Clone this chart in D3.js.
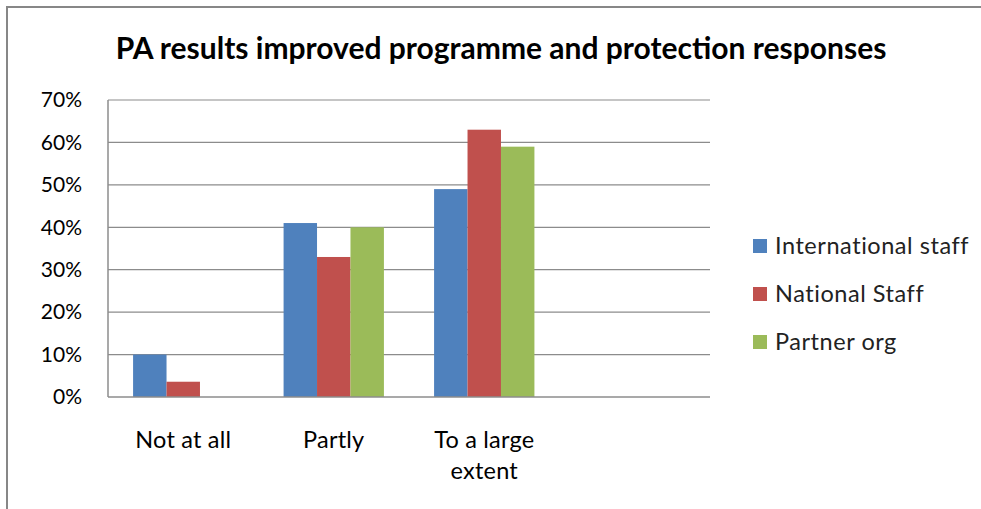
<!DOCTYPE html>
<html>
<head>
<meta charset="utf-8">
<script src="https://cdn.jsdelivr.net/npm/d3@7"></script>
<style>
  body { margin: 0; background: #fff; }
  text { font-family: Lato, "Open Sans", sans-serif; fill: #000; }
</style>
</head>
<body>
<svg width="981" height="509"></svg>
<script>
var categories = ["Not at all", "Partly", "To a large extent", ""];
var seriesNames = ["International staff", "National Staff", "Partner org"];
var internationalStaff = [0.10, 0.41, 0.49, null];
var nationalStaff = [0.036, 0.33, 0.63, null];
var partnerOrg = [0, 0.40, 0.59, null];
var yTicks = [0, 0.1, 0.2, 0.3, 0.4, 0.5, 0.6, 0.7];
var colors = ["#4f81bd", "#c0504d", "#9bbb59"];

var svg = d3.select("svg"),
    width = +svg.attr("width"),
    height = +svg.attr("height");

var margin = { top: 100, left: 108, right: 271, bottom: 112 };
var plotW = width - margin.left - margin.right,
    plotH = height - margin.top - margin.bottom;

// chart border
svg.append("rect")
    .attr("x", 7).attr("y", 7)
    .attr("width", width).attr("height", height)
    .attr("fill", "none")
    .attr("stroke", "#878787")
    .attr("stroke-width", 2);

svg.append("text")
    .attr("x", 501).attr("y", 59)
    .attr("text-anchor", "middle")
    .style("font-size", "30px")
    .style("font-weight", "bold")
    .text("PA results improved programme and protection responses");

var g = svg.append("g").attr("transform", "translate(" + margin.left + "," + margin.top + ")");

var x = d3.scaleBand().domain(categories).range([0, plotW]);
var xSub = d3.scaleBand().domain(seriesNames)
    .range([0, x.bandwidth()]).paddingOuter(0.75).paddingInner(0);
var y = d3.scaleLinear().domain([0, 0.7]).range([plotH, 0]);

// gridlines
g.append("g").selectAll("line")
    .data(yTicks.slice(1))
    .enter().append("line")
    .attr("x1", 0).attr("x2", plotW)
    .attr("y1", d => y(d)).attr("y2", d => y(d))
    .attr("stroke", "#8c8c8c")
    .attr("stroke-width", 1.2);

// y axis labels
var yAxis = d3.axisLeft(y).tickValues(yTicks).tickFormat(d3.format(".0%")).tickSize(0).tickPadding(26);
var ya = g.append("g").call(yAxis);
ya.select(".domain").remove();
ya.selectAll("text").style("font-size", "21px").style("fill", "#000").attr("font-family", null);

var series = [internationalStaff, nationalStaff, partnerOrg];
var barData = [];
series.forEach(function (vals, si) {
    vals.forEach(function (v, ci) {
        if (v) barData.push({ cat: categories[ci], name: seriesNames[si], value: v, color: colors[si] });
    });
});

g.append("g").selectAll("rect")
    .data(barData)
    .enter().append("rect")
    .attr("x", d => x(d.cat) + xSub(d.name))
    .attr("width", xSub.bandwidth())
    .attr("y", d => y(d.value))
    .attr("height", d => plotH - y(d.value))
    .attr("fill", d => d.color);

// axis lines
g.append("line").attr("x1", 0).attr("x2", 0).attr("y1", 0).attr("y2", plotH)
    .attr("stroke", "#8c8c8c").attr("stroke-width", 1.5);
g.append("line").attr("x1", 0).attr("x2", plotW).attr("y1", plotH).attr("y2", plotH)
    .attr("stroke", "#8c8c8c").attr("stroke-width", 1.5);

// category labels (wrapped)
var catLines = { "To a large extent": ["To a large", "extent"] };
categories.forEach(function (c) {
    var lines = catLines[c] || [c];
    var t = g.append("text")
        .attr("text-anchor", "middle")
        .style("font-size", "23.5px")
        .style("letter-spacing", "0.2px");
    lines.forEach(function (l, i) {
        t.append("tspan")
            .attr("x", x(c) + x.bandwidth() / 2)
            .attr("y", plotH + 51 + i * 31)
            .text(l);
    });
});

// legend
var legend = svg.selectAll(".legend")
    .data(seriesNames)
    .enter().append("g")
    .attr("class", "legend")
    .attr("transform", function (d, i) { return "translate(753," + (246 + i * 48) + ")"; });

legend.append("rect")
    .attr("x", 0).attr("y", -7)
    .attr("width", 14).attr("height", 14)
    .style("fill", (d, i) => colors[i]);

legend.append("text")
    .attr("x", 22)
    .attr("y", 0)
    .attr("dy", ".35em")
    .style("font-size", "23.5px")
    .style("letter-spacing", "0.55px")
    .style("fill", "#222")
    .text(d => d);
</script>
</body>
</html>
